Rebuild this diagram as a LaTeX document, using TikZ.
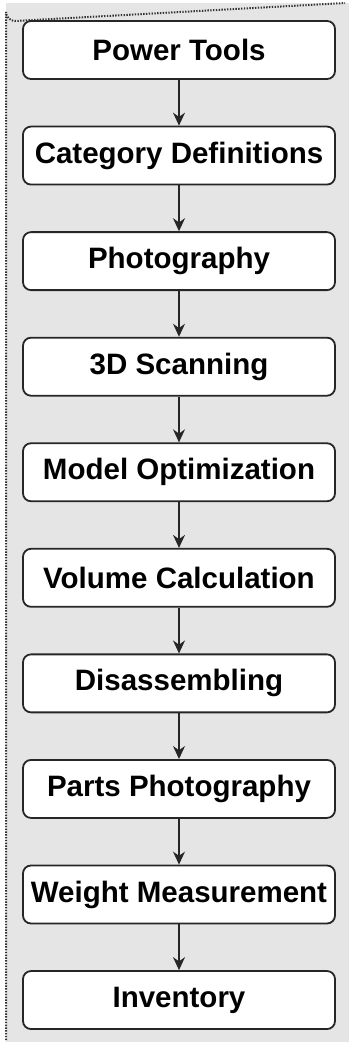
\documentclass[tikz,border=0pt]{standalone}
\usepackage{fontspec}
\setmainfont{Liberation Sans}
\usetikzlibrary{arrows.meta}
\begin{document}
\begin{tikzpicture}[x=1pt,y=-1pt,
  stepbox/.style={draw=black!85, line width=1.8pt, fill=white, rounded corners=8pt,
    minimum width=312pt, minimum height=58pt, inner sep=0pt,
    font=\fontsize{29.5}{32}\selectfont\bfseries},
  flow/.style={draw=black!85, line width=1.4pt, -{Stealth[length=13pt,width=12pt]}}]
\useasboundingbox (0,0) rectangle (349,1042);
\fill[black!10] (6,3) rectangle (349,1042);
\draw[black!80, line width=2pt, dash pattern=on 1.4pt off 1.4pt] (6,1040) -- (6,12) arc[start angle=180,end angle=90,radius=9] -- (345,3);
\def\ys{105.56}
\foreach \n/\t [count=\i from 0] in {a/Power Tools, b/Category Definitions, c/Photography, d/3D Scanning, e/Model Optimization, f/Volume Calculation, g/Disassembling, h/Parts Photography, k/Weight Measurement, l/Inventory}{
  \node[stepbox] (\n) at (179, 50+\i*\ys) {\t};
}
\foreach \p/\q in {a/b, b/c, c/d, d/e, e/f, f/g, g/h, h/k, k/l}{
  \draw[flow] (\p.south) -- (\q.north);
}
\end{tikzpicture}
\end{document}
